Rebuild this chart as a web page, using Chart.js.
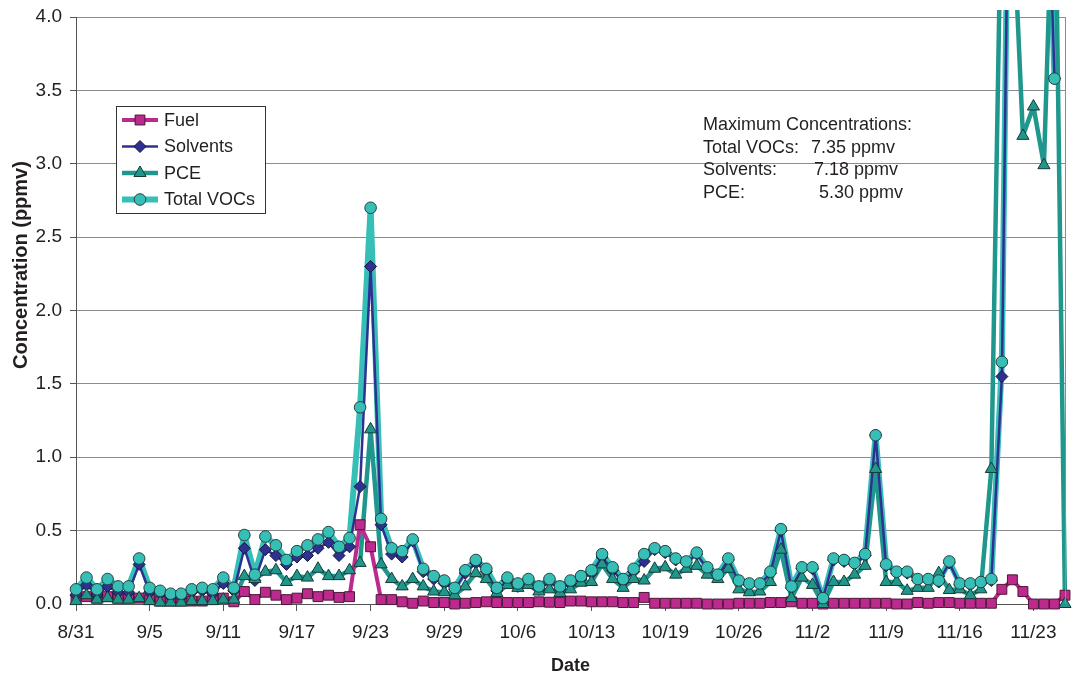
<!DOCTYPE html>
<html>
<head>
<meta charset="utf-8">
<script src="https://cdn.jsdelivr.net/npm/chart.js@4.4.0/dist/chart.umd.min.js"></script>
<style>
  html, body { margin: 0; padding: 0; background: #fff; }
  #wrap { width: 1073px; height: 681px; }
</style>
</head>
<body>
<div id="wrap"><canvas id="grafico_voc" width="1073" height="681"></canvas></div>
<script>
// labels shown under every 7th sample
const tickLabels = ['8/31', '9/5', '9/11', '9/17', '9/23', '9/29', '10/6', '10/13', '10/19', '10/26', '11/2', '11/9', '11/16', '11/23'];
const sampleCount = 95;
const categories = Array.from({ length: sampleCount }, (_, i) => (i % 7 === 0 ? tickLabels[i / 7] : ''));

const fuel = [
  0.04, 0.05, 0.04, 0.05, 0.04, 0.04, 0.04, 0.03, 0.02, 0.02,
  0.02, 0.02, 0.02, 0.03, 0.04, 0.015, 0.085, 0.03, 0.08, 0.06,
  0.03, 0.04, 0.07, 0.05, 0.06, 0.045, 0.05, 0.54, 0.39, 0.03,
  0.03, 0.015, 0.005, 0.02, 0.01, 0.01, 0.0, 0.005, 0.01, 0.015,
  0.01, 0.01, 0.01, 0.01, 0.015, 0.012, 0.01, 0.02, 0.02, 0.015,
  0.015, 0.015, 0.01, 0.01, 0.045, 0.005, 0.005, 0.005, 0.005, 0.005,
  0.0, 0.0, 0.0, 0.005, 0.005, 0.005, 0.01, 0.01, 0.015, 0.005,
  0.005, 0.0, 0.005, 0.005, 0.005, 0.005, 0.005, 0.005, 0.0, 0.0,
  0.01, 0.005, 0.01, 0.01, 0.005, 0.005, 0.005, 0.005, 0.10, 0.165,
  0.085, 0.0, 0.0, 0.0, 0.06
];
const solvents = [
  0.06, 0.13, 0.06, 0.12, 0.08, 0.08, 0.27, 0.08, 0.07, 0.05,
  0.05, 0.08, 0.09, 0.07, 0.14, 0.09, 0.38, 0.16, 0.37, 0.33,
  0.27, 0.32, 0.33, 0.38, 0.42, 0.33, 0.39, 0.80, 2.30, 0.54,
  0.34, 0.32, 0.43, 0.22, 0.17, 0.14, 0.10, 0.21, 0.28, 0.22,
  0.09, 0.16, 0.12, 0.15, 0.10, 0.15, 0.10, 0.14, 0.17, 0.21,
  0.32, 0.23, 0.15, 0.22, 0.29, 0.37, 0.35, 0.30, 0.28, 0.34,
  0.24, 0.19, 0.30, 0.15, 0.13, 0.13, 0.21, 0.50, 0.11, 0.24,
  0.24, 0.04, 0.30, 0.29, 0.27, 0.33, 1.15, 0.26, 0.21, 0.21,
  0.16, 0.16, 0.15, 0.28, 0.13, 0.13, 0.14, 0.16, 1.55, 7.18,
  5.9, 6.4, 5.9, 3.58, null
];
const pce = [
  0.02, 0.06, 0.03, 0.04, 0.03, 0.03, 0.04, 0.02, 0.01, 0.01,
  0.01, 0.02, 0.02, 0.02, 0.03, 0.03, 0.19, 0.17, 0.22, 0.23,
  0.15, 0.19, 0.18, 0.24, 0.19, 0.19, 0.23, 0.28, 1.19, 0.27,
  0.17, 0.12, 0.17, 0.12, 0.085, 0.08, 0.06, 0.12, 0.21, 0.17,
  0.075, 0.13, 0.11, 0.13, 0.085, 0.10, 0.075, 0.10, 0.145, 0.15,
  0.27, 0.17, 0.11, 0.17, 0.16, 0.24, 0.25, 0.20, 0.24, 0.26,
  0.20, 0.17, 0.24, 0.10, 0.08, 0.085, 0.15, 0.37, 0.04, 0.18,
  0.13, 0.0, 0.15, 0.15, 0.20, 0.26, 0.92, 0.15, 0.15, 0.09,
  0.11, 0.11, 0.21, 0.095, 0.10, 0.06, 0.10, 0.92, 5.1, 4.8,
  3.19, 3.39, 2.99, 5.30, 0.0
];
const totalVocs = [
  0.10, 0.18, 0.10, 0.17, 0.12, 0.12, 0.31, 0.11, 0.09, 0.07,
  0.07, 0.10, 0.11, 0.10, 0.18, 0.11, 0.47, 0.20, 0.46, 0.40,
  0.30, 0.36, 0.40, 0.44, 0.49, 0.39, 0.45, 1.34, 2.70, 0.58,
  0.38, 0.36, 0.44, 0.24, 0.19, 0.16, 0.11, 0.23, 0.30, 0.24,
  0.11, 0.18, 0.14, 0.17, 0.12, 0.17, 0.12, 0.16, 0.19, 0.23,
  0.34, 0.25, 0.17, 0.24, 0.34, 0.38, 0.36, 0.31, 0.29, 0.35,
  0.25, 0.20, 0.31, 0.16, 0.14, 0.14, 0.22, 0.51, 0.12, 0.25,
  0.25, 0.04, 0.31, 0.30, 0.28, 0.34, 1.15, 0.27, 0.22, 0.22,
  0.17, 0.17, 0.16, 0.29, 0.14, 0.14, 0.15, 0.17, 1.65, 7.35,
  6.0, 6.4, 5.9, 3.58, null
];

const yTicks = [0, 0.5, 1.0, 1.5, 2.0, 2.5, 3.0, 3.5, 4.0];
const maxNotes = [
  ['Maximum Concentrations:', ''],
  ['Total VOCs:', '7.35 ppmv'],
  ['Solvents:', '7.18 ppmv'],
  ['PCE:', '5.30 ppmv']
];

const FONT = '"Liberation Sans", Arial, Helvetica, sans-serif';
const TEXT = '#231f20';

const series = [
  { label: 'Fuel', data: fuel, color: '#bd2a8e', edge: '#4a1838', width: 4, style: 'rect', radius: 7 },
  { label: 'Solvents', data: solvents, color: '#2e3192', edge: '#14163f', width: 2.5, style: 'rectRot', radius: 6 },
  { label: 'PCE', data: pce, color: '#20978c', edge: '#173a36', width: 4.5, style: 'triangle', radius: 7 },
  { label: 'Total VOCs', data: totalVocs, color: '#35bfb7', edge: '#26403e', width: 6, style: 'circle', radius: 5.8 }
];

const clipBox = { left: 10, top: 7, right: 10, bottom: 10 };
const datasets = [];
// lines underneath, Total VOCs at the bottom; markers on top
const lineOrder = [5, 6, 7, 8];
const markOrder = [4, 3, 2, 1];
series.forEach((s, i) => {
  datasets.push({
    label: s.label, data: s.data, borderColor: s.color, borderWidth: s.width,
    borderJoinStyle: 'round', borderCapStyle: 'round',
    pointRadius: 0, tension: 0, fill: false, order: lineOrder[i], clip: clipBox
  });
});
series.forEach((s, i) => {
  datasets.push({
    label: s.label + ' markers', data: s.data, showLine: false,
    pointStyle: s.style, pointRadius: s.radius, pointBackgroundColor: s.color,
    pointBorderColor: s.edge, pointBorderWidth: 1, order: markOrder[i], clip: clipBox
  });
});

function drawMarker(ctx, style, x, y, r) {
  ctx.beginPath();
  if (style === 'rect') {
    const h = r * Math.SQRT1_2;
    ctx.rect(x - h, y - h, 2 * h, 2 * h);
  } else if (style === 'rectRot') {
    ctx.moveTo(x - r, y); ctx.lineTo(x, y - r); ctx.lineTo(x + r, y); ctx.lineTo(x, y + r); ctx.closePath();
  } else if (style === 'triangle') {
    for (let k = 0; k < 3; k++) {
      const a = -Math.PI / 2 + k * 2 * Math.PI / 3;
      const px = x + Math.cos(a) * r, py = y + Math.sin(a) * r;
      k === 0 ? ctx.moveTo(px, py) : ctx.lineTo(px, py);
    }
    ctx.closePath();
  } else {
    ctx.arc(x, y, r, 0, Math.PI * 2);
  }
  ctx.fill();
  ctx.stroke();
}

const extras = {
  id: 'extras',
  afterDraw(chart) {
    const ctx = chart.ctx;
    const area = chart.chartArea;
    ctx.save();

    // right edge of the plot frame
    ctx.strokeStyle = '#8c8c8c';
    ctx.lineWidth = 1;
    ctx.beginPath();
    ctx.moveTo(Math.round(area.right) + 0.5, area.top);
    ctx.lineTo(Math.round(area.right) + 0.5, area.bottom);
    ctx.stroke();

    // legend box
    ctx.fillStyle = '#fff';
    ctx.fillRect(116, 106, 150, 108);
    ctx.strokeStyle = '#333';
    ctx.strokeRect(116.5, 106.5, 149, 107);
    ctx.font = '18px ' + FONT;
    ctx.textBaseline = 'middle';
    ctx.textAlign = 'left';
    series.forEach((s, i) => {
      const y = 120 + i * 26.5;
      ctx.strokeStyle = s.color;
      ctx.lineWidth = s.width;
      ctx.beginPath();
      ctx.moveTo(122, y);
      ctx.lineTo(158, y);
      ctx.stroke();
      ctx.fillStyle = s.color;
      ctx.strokeStyle = s.edge;
      ctx.lineWidth = 1;
      drawMarker(ctx, s.style, 140, y, s.radius);
      ctx.fillStyle = TEXT;
      ctx.fillText(s.label, 164, y + 1);
    });

    // maximum concentration note
    ctx.font = '18px ' + FONT;
    ctx.fillStyle = TEXT;
    const valueX = [0, 811, 814, 819];
    maxNotes.forEach((row, i) => {
      const y = 125 + i * 22.6;
      ctx.fillText(row[0], 703, y);
      if (row[1]) ctx.fillText(row[1], valueX[i], y);
    });

    // y axis title
    ctx.translate(21, 265);
    ctx.rotate(-Math.PI / 2);
    ctx.font = 'bold 20px ' + FONT;
    ctx.textAlign = 'center';
    ctx.fillText('Concentration (ppmv)', 0, 0);
    ctx.restore();
  }
};

Chart.defaults.font.family = FONT;
Chart.defaults.color = TEXT;

new Chart(document.getElementById('grafico_voc'), {
  type: 'line',
  data: { labels: categories, datasets: datasets },
  plugins: [extras],
  options: {
    responsive: false,
    animation: false,
    events: [],
    layout: { padding: { top: 17, right: 3, left: 0, bottom: 0 } },
    plugins: { legend: { display: false }, tooltip: { enabled: false } },
    scales: {
      x: {
        type: 'category',
        offset: false,
        afterFit: (scale) => { scale.height = 77; scale.paddingLeft = 0; scale.paddingRight = 0; },
        border: { color: '#555', width: 1 },
        grid: {
          drawOnChartArea: false,
          tickLength: 7,
          tickColor: (c) => (categories[c.index] ? '#555' : 'rgba(0,0,0,0)')
        },
        ticks: {
          autoSkip: false, maxRotation: 0, minRotation: 0, padding: 10,
          font: { size: 19 }, color: TEXT,
          callback: (v, i) => categories[i]
        },
        title: { display: true, text: 'Date', font: { size: 18, weight: 'bold' }, color: TEXT, padding: { top: 0, bottom: 4 } }
      },
      y: {
        min: 0, max: 4,
        afterFit: (scale) => { scale.width = 76; scale.paddingTop = 0; scale.paddingBottom = 0; },
        afterBuildTicks: (scale) => { scale.ticks = yTicks.map(v => ({ value: v })); },
        border: { color: '#555', width: 1 },
        grid: { color: '#8c8c8c', lineWidth: 1, tickLength: 6, tickColor: '#555' },
        ticks: { padding: 8, font: { size: 19 }, color: TEXT, callback: (v) => Number(v).toFixed(1) }
      }
    }
  }
});
</script>
</body>
</html>
